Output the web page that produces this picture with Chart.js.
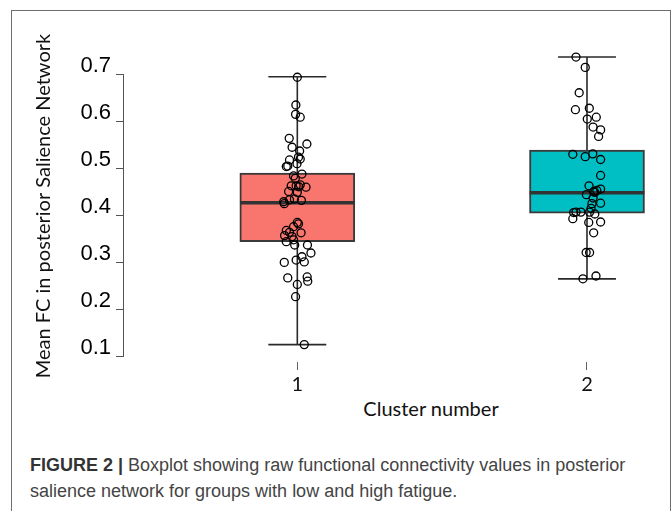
<!DOCTYPE html>
<html>
<head>
<meta charset="utf-8">
<script src="https://cdn.jsdelivr.net/npm/chart.js@4.4.1/dist/chart.umd.min.js"></script>
<style>
    html, body { margin: 0; padding: 0; background: #fff; }
    body { width: 672px; height: 511px; position: relative; overflow: hidden; }
    #frame {
        position: absolute; left: 11px; top: 10px; width: 658px; height: 520px;
        border: 1px solid #6e6e6e; border-bottom: none;
    }
    #chart { position: absolute; left: 0; top: 0; }
    #x-title {
        position: absolute; left: 331px; top: 396px; width: 200px; text-align: center;
        font-family: Lato, "Open Sans", sans-serif; font-size: 20px; color: #111;
    }
    #caption {
        position: absolute; left: 30px; top: 452px; width: 635px;
        font-family: "Liberation Sans", Arial, sans-serif; font-size: 18px; line-height: 26px;
        color: #444;
    }
    #caption b { color: #333; }
</style>
</head>
<body>
<div id="frame"></div>
<canvas id="chart" width="672" height="395"></canvas>
<div id="x-title">Cluster number</div>
<div id="caption"><b>FIGURE 2 |</b> Boxplot showing raw functional connectivity values in posterior<br>salience network for groups with low and high fatigue.</div>
<script>
// Groupes (clusters) et statistiques des boîtes
const clusters = [1, 2];
const boxColors = ['#F8766D', '#00BFC4'];
const whiskerLow = [0.126, 0.266];
const boxQ1 = [0.345, 0.406];
const boxMedian = [0.428, 0.449];
const boxQ3 = [0.491, 0.540];
const whiskerHigh = [0.696, 0.738];
const yTickValues = [0.1, 0.2, 0.3, 0.4, 0.5, 0.6, 0.7];

// Valeurs individuelles (FC moyen) et décalage horizontal (jitter)
const cluster1Values = [0.695, 0.636, 0.616, 0.610, 0.565, 0.553, 0.546, 0.538, 0.525, 0.519,
    0.521, 0.505, 0.506, 0.511, 0.489, 0.485, 0.480, 0.464, 0.464, 0.462,
    0.461, 0.466, 0.452, 0.450, 0.436, 0.433, 0.434, 0.430, 0.426, 0.386,
    0.377, 0.383, 0.369, 0.365, 0.364, 0.358, 0.356, 0.345, 0.349, 0.338,
    0.338, 0.321, 0.313, 0.306, 0.302, 0.301, 0.268, 0.270, 0.261, 0.254,
    0.228, 0.126];
const cluster1Jitter = [0.000, -0.005, -0.006, 0.010, -0.028, 0.033, -0.018, 0.008, 0.004, -0.027,
    0.010, -0.038, -0.033, -0.001, 0.016, -0.013, -0.007, -0.021, -0.004, 0.005,
    0.030, 0.010, -0.030, 0.000, -0.010, 0.014, -0.027, -0.047, -0.045, 0.000,
    -0.013, 0.004, -0.038, -0.027, 0.013, -0.044, -0.018, -0.038, -0.013, -0.009,
    0.035, 0.047, 0.016, -0.004, 0.024, -0.045, -0.033, 0.034, 0.036, 0.000,
    -0.006, 0.024];
const cluster2Values = [0.738, 0.716, 0.662, 0.626, 0.629, 0.606, 0.610, 0.589, 0.583, 0.569,
    0.531, 0.526, 0.532, 0.520, 0.486, 0.464, 0.457, 0.452, 0.454, 0.445,
    0.450, 0.438, 0.427, 0.426, 0.416, 0.407, 0.408, 0.408, 0.408, 0.404,
    0.394, 0.386, 0.387, 0.364, 0.322, 0.322, 0.266, 0.272];
const cluster2Jitter = [-0.038, -0.006, -0.027, -0.040, 0.008, 0.001, 0.032, 0.021, 0.047, 0.040,
    -0.049, -0.006, 0.020, 0.047, 0.047, 0.007, 0.047, 0.023, 0.034, -0.002,
    0.027, 0.021, 0.047, 0.017, 0.014, -0.046, -0.038, -0.021, 0.009, 0.027,
    -0.049, 0.006, 0.047, 0.023, -0.003, 0.009, -0.014, 0.031];

const BOX_HALF = 0.198;
const CAP_HALF = 0.1;

// Points individuels
const points = [];
cluster1Values.forEach((v, i) => points.push({ x: clusters[0] + cluster1Jitter[i], y: v }));
cluster2Values.forEach((v, i) => points.push({ x: clusters[1] + cluster2Jitter[i], y: v }));

// Moustaches et médianes (segments séparés par des trous)
const whiskers = [];
const medians = [];
clusters.forEach((c, i) => {
    whiskers.push({ x: c, y: boxQ3[i] }, { x: c, y: whiskerHigh[i] }, { x: c, y: null });
    whiskers.push({ x: c - CAP_HALF, y: whiskerHigh[i] }, { x: c + CAP_HALF, y: whiskerHigh[i] }, { x: c, y: null });
    whiskers.push({ x: c, y: boxQ1[i] }, { x: c, y: whiskerLow[i] }, { x: c, y: null });
    whiskers.push({ x: c - CAP_HALF, y: whiskerLow[i] }, { x: c + CAP_HALF, y: whiskerLow[i] }, { x: c, y: null });
    medians.push({ x: c - BOX_HALF, y: boxMedian[i] }, { x: c + BOX_HALF, y: boxMedian[i] }, { x: c, y: null });
});

// Ligne de l'axe Y limitée de 0.1 à 0.7
const yAxisLine = {
    id: 'yAxisLine',
    afterDraw(chart) {
        const y = chart.scales.y;
        const ctx = chart.ctx;
        const x = chart.chartArea.left - 0.5;
        ctx.save();
        ctx.strokeStyle = '#555';
        ctx.lineWidth = 1;
        ctx.beginPath();
        ctx.moveTo(x, y.getPixelForValue(yTickValues[0]));
        ctx.lineTo(x, y.getPixelForValue(yTickValues[yTickValues.length - 1]));
        ctx.stroke();
        ctx.restore();
    }
};

const ctx = document.getElementById('chart').getContext('2d');
new Chart(ctx, {
    data: {
        datasets: [
            {
                type: 'scatter',
                data: points,
                pointRadius: 4,
                pointBorderWidth: 1.3,
                pointBorderColor: '#000',
                pointBackgroundColor: 'rgba(0,0,0,0)',
                order: 0
            },
            {
                type: 'line',
                data: medians,
                borderColor: '#333',
                borderWidth: 3.5,
                pointRadius: 0,
                spanGaps: false,
                order: 1
            },
            {
                type: 'line',
                data: whiskers,
                borderColor: '#2a2a2a',
                borderWidth: 1.6,
                pointRadius: 0,
                spanGaps: false,
                order: 1
            },
            {
                type: 'bar',
                data: clusters.map((c, i) => ({ x: c, y: [boxQ1[i], boxQ3[i]] })),
                backgroundColor: boxColors,
                borderColor: '#3a3a3a',
                borderWidth: 2,
                borderSkipped: false,
                barThickness: 115,
                order: 2
            }
        ]
    },
    options: {
        responsive: false,
        animation: false,
        layout: { padding: { top: 50, right: 12, left: 0, bottom: 0 } },
        plugins: {
            legend: { display: false },
            tooltip: { enabled: false }
        },
        scales: {
            x: {
                type: 'linear',
                min: 0.4017,
                max: 2.252,
                offset: false,
                afterBuildTicks: scale => { scale.ticks = clusters.map(v => ({ value: v })); },
                afterFit: scale => { scale.height = 33; },
                border: { display: false },
                grid: {
                    offset: false,
                    drawOnChartArea: false,
                    drawTicks: true,
                    tickLength: 8,
                    color: '#666'
                },
                ticks: {
                    padding: 3,
                    color: '#111',
                    font: { family: 'Lato', size: 20 }
                }
            },
            y: {
                type: 'linear',
                min: 0.089,
                max: 0.753,
                afterBuildTicks: scale => { scale.ticks = yTickValues.map(v => ({ value: v })); },
                afterFit: scale => { scale.width = 124; },
                border: { display: false },
                grid: {
                    drawOnChartArea: false,
                    drawTicks: true,
                    tickLength: 8,
                    color: '#555'
                },
                ticks: {
                    padding: 5,
                    labelOffset: -9,
                    color: '#000',
                    font: { family: 'Liberation Sans', size: 22 },
                    callback: v => v.toFixed(1)
                },
                title: {
                    display: true,
                    text: 'Mean FC in posterior Salience Network',
                    color: '#111',
                    font: { family: 'Lato', size: 20 },
                    padding: { top: 32, bottom: 0 }
                }
            }
        }
    },
    plugins: [yAxisLine]
});
</script>
</body>
</html>
